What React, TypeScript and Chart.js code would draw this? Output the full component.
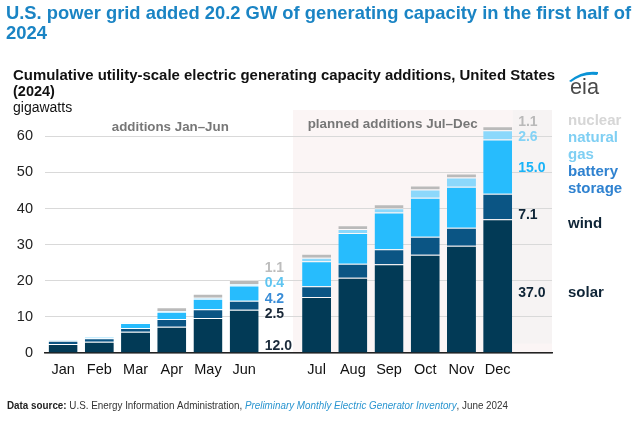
import React, { useEffect, useRef } from "react";
import { Chart, registerables } from "chart.js";

Chart.register(...registerables);

const months = ["Jan", "Feb", "Mar", "Apr", "May", "Jun", "", "Jul", "Aug", "Sep", "Oct", "Nov", "Dec", ""];
const solar = [2.5, 3.1, 5.9, 7.3, 9.7, 12.0, null, 15.5, 20.8, 24.6, 27.2, 29.7, 37.0, null];
const wind = [0.9, 1.0, 1.0, 2.1, 2.4, 2.5, null, 3.0, 3.9, 4.1, 5.0, 5.0, 7.1, null];
const battery = [0.1, 0.3, 1.4, 2.0, 2.9, 4.2, null, 6.9, 8.5, 10.2, 10.8, 11.3, 15.0, null];
const gas = [0, 0.1, 0.1, 0.2, 0.3, 0.4, null, 1.0, 1.1, 1.2, 2.3, 2.6, 2.6, null];
const nuclear = [0, 0, 0, 1.1, 1.1, 1.1, null, 1.1, 1.1, 1.1, 1.1, 1.1, 1.1, null];
const yTicks = [0, 10, 20, 30, 40, 50, 60];

const junLabels = ["1.1", "0.4", "4.2", "2.5", "12.0"];
const decLabels = ["1.1", "2.6", "15.0", "7.1", "37.0"];

const COLORS = {
  solar: "#023a56",
  wind: "#0b5584",
  battery: "#27bcfd",
  gas: "#8cd8fb",
  nuclear: "#bababa",
};

const FONT = '"Liberation Sans", Arial, sans-serif';

function txt(ctx: CanvasRenderingContext2D, s: string, x: number, y: number, font: string, color: string, align: CanvasTextAlign = "left", width?: number) {
  ctx.save();
  ctx.font = font;
  ctx.fillStyle = color;
  ctx.textBaseline = "middle";
  ctx.textAlign = align;
  const w = ctx.measureText(s).width;
  ctx.translate(x, y);
  if (width) ctx.scale(width / w, 1);
  ctx.fillText(s, 0, 0);
  ctx.restore();
}

const decor = {
  id: "decor",
  beforeDraw(chart: any) {
    const ctx = chart.ctx;
    const x = chart.scales.x;
    const y = chart.scales.y;
    const area = chart.chartArea;
    ctx.save();
    ctx.fillStyle = "#ffffff";
    ctx.fillRect(0, 0, chart.width, chart.height);
    const left = x.getPixelForValue(6.35);
    const grayLeft = x.getPixelForValue(12.42);
    ctx.fillStyle = "#fbf5f5";
    ctx.fillRect(left, area.top - 1, area.right - left, area.bottom - area.top + 1);
    ctx.fillStyle = "#f6f3f3";
    ctx.fillRect(grayLeft, area.top - 1, area.right - grayLeft, y.getPixelForValue(2.6) - area.top + 1);
    ctx.restore();
  },
  afterDraw(chart: any) {
    const ctx: CanvasRenderingContext2D = chart.ctx;
    const x = chart.scales.x;
    const y = chart.scales.y;

    // Titles
    txt(ctx, "U.S. power grid added 20.2 GW of generating capacity in the first half of", 6, 14, `bold 19px ${FONT}`, "#1a84c4", "left", 625);
    txt(ctx, "2024", 6, 34, `bold 19px ${FONT}`, "#1a84c4", "left", 41);
    txt(ctx, "Cumulative utility-scale electric generating capacity additions, United States", 13, 76, `bold 14.5px ${FONT}`, "#111111", "left", 542);
    txt(ctx, "(2024)", 13, 92, `bold 14.5px ${FONT}`, "#111111");
    txt(ctx, "gigawatts", 13, 108, `14px ${FONT}`, "#111111");

    // period annotations
    txt(ctx, "additions Jan\u2013Jun", x.getPixelForValue(2.96), 127, `bold 13.5px ${FONT}`, "#777777", "center", 117);
    txt(ctx, "planned additions Jul\u2013Dec", x.getPixelForValue(9.1), 124, `bold 13.5px ${FONT}`, "#777777", "center", 170);

    // value labels next to Jun
    const meta = chart.getDatasetMeta(0);
    const junBar = meta.data[5];
    const decBar = meta.data[12];
    const lf = `bold 14px ${FONT}`;
    const jx = junBar.x + junBar.width / 2 + 6;
    const jTop = y.getPixelForValue(20.2);
    const base = y.getPixelForValue(0);
    const jCols = ["#bdbdbd", "#5ec5f1", "#3a8dd7", "#1b2a3a", "#1b2a3a"];
    const jYs = [jTop - 12, jTop + 3.5, jTop + 19, jTop + 34, base - 7];
    junLabels.forEach((s, i) => txt(ctx, s, jx, jYs[i], lf, jCols[i]));

    const dx = decBar.x + decBar.width / 2 + 6;
    const dTop = y.getPixelForValue(62.8);
    const dCols = ["#b9b9b9", "#84d3f6", "#19b3f8", "#0e2436", "#0e2436"];
    const dYs = [dTop - 4.5, dTop + 10.5, y.getPixelForValue(51.6) + 2, y.getPixelForValue(40.55) + 9, y.getPixelForValue(18.5) + 7];
    decLabels.forEach((s, i) => txt(ctx, s, dx, dYs[i], lf, dCols[i]));

    // legend texts
    const lx = 568;
    const gf = `bold 15px ${FONT}`;
    txt(ctx, "nuclear", lx, dTop - 5, gf, "#d6d6d6");
    txt(ctx, "natural", lx, dTop + 11.5, gf, "#7fcff3");
    txt(ctx, "gas", lx, dTop + 28.5, gf, "#7fcff3");
    txt(ctx, "battery", lx, dTop + 46, gf, "#2f82d0");
    txt(ctx, "storage", lx, dTop + 63, gf, "#2f82d0");
    txt(ctx, "wind", lx, y.getPixelForValue(40.55) + 17, gf, "#0e2436");
    txt(ctx, "solar", lx, y.getPixelForValue(18.5) + 7, gf, "#0e2436");

    // eia logo
    ctx.save();
    txt(ctx, "eia", 570, 88, `22px ${FONT}`, "#4a4a4a", "left", 29);
    ctx.fillStyle = "#0a93d6";
    ctx.beginPath();
    ctx.moveTo(569, 81);
    ctx.quadraticCurveTo(582, 70, 598, 72);
    ctx.quadraticCurveTo(598.5, 73.5, 597, 75);
    ctx.quadraticCurveTo(583, 73, 571, 82);
    ctx.closePath();
    ctx.fill();
    ctx.restore();

    // footer
    const fy = 406;
    const parts: [string, string, string][] = [
      ["Data source:", `bold 11px ${FONT}`, "#222222"],
      [" U.S. Energy Information Administration, ", `11px ${FONT}`, "#333333"],
      ["Preliminary Monthly Electric Generator Inventory", `italic 11px ${FONT}`, "#2a95d0"],
      [", June 2024", `11px ${FONT}`, "#333333"],
    ];
    let total = 0;
    const ws = parts.map(([s, f]) => {
      ctx.font = f;
      const w = ctx.measureText(s).width;
      total += w;
      return w;
    });
    const scale = 501 / total;
    let cx = 7;
    parts.forEach(([s, f, c], i) => {
      txt(ctx, s, cx, fy, f, c, "left", ws[i] * scale);
      cx += ws[i] * scale;
    });
  },
};

export default function App() {
  const ref = useRef<HTMLCanvasElement>(null);
  useEffect(() => {
    if (!ref.current) return;
    const mk = (label: string, data: (number | null)[], color: string) => ({
      label,
      data,
      backgroundColor: color,
      borderColor: "rgba(255,255,255,0.28)",
      borderWidth: { top: 1, left: 0, right: 0, bottom: 0 },
      borderSkipped: false,
      categoryPercentage: 1,
      barPercentage: 0.8,
    });
    const chart = new Chart(ref.current, {
      type: "bar",
      data: {
        labels: months,
        datasets: [
          mk("solar", solar, COLORS.solar),
          mk("wind", wind, COLORS.wind),
          mk("battery storage", battery, COLORS.battery),
          mk("natural gas", gas, COLORS.gas),
          mk("nuclear", nuclear, COLORS.nuclear),
        ],
      },
      options: {
        responsive: false,
        animation: false,
        devicePixelRatio: 1,
        layout: { padding: { left: 0, right: 88, top: 111, bottom: 0 } },
        plugins: { legend: { display: false }, tooltip: { enabled: false }, title: { display: false } },
        scales: {
          x: {
            stacked: true,
            grid: { display: false, drawTicks: false },
            border: { display: true, color: "#222222", width: 1.5 },
            ticks: { font: { family: FONT, size: 14.5 }, color: "#111111", padding: 8, maxRotation: 0, autoSkip: false },
            afterFit: (s: any) => { s.height = 74; },
          },
          y: {
            stacked: true,
            min: 0,
            max: 67,
            grid: { color: "#d9d9d9", lineWidth: 1, drawTicks: false },
            border: { display: false },
            ticks: { stepSize: 10, font: { family: FONT, size: 14.5 }, color: "#222222", padding: 12 },
            afterBuildTicks: (s: any) => { s.ticks = yTicks.map((v) => ({ value: v })); },
            afterFit: (s: any) => { s.width = 45; },
          },
        },
      },
      plugins: [decor],
    } as any);
    return () => chart.destroy();
  }, []);
  return (
    <div style={{ position: "fixed", left: 0, top: 0, width: 640, height: 427, background: "#fff" }}>
      <canvas ref={ref} width={640} height={427} style={{ width: 640, height: 427, display: "block" }} />
    </div>
  );
}
